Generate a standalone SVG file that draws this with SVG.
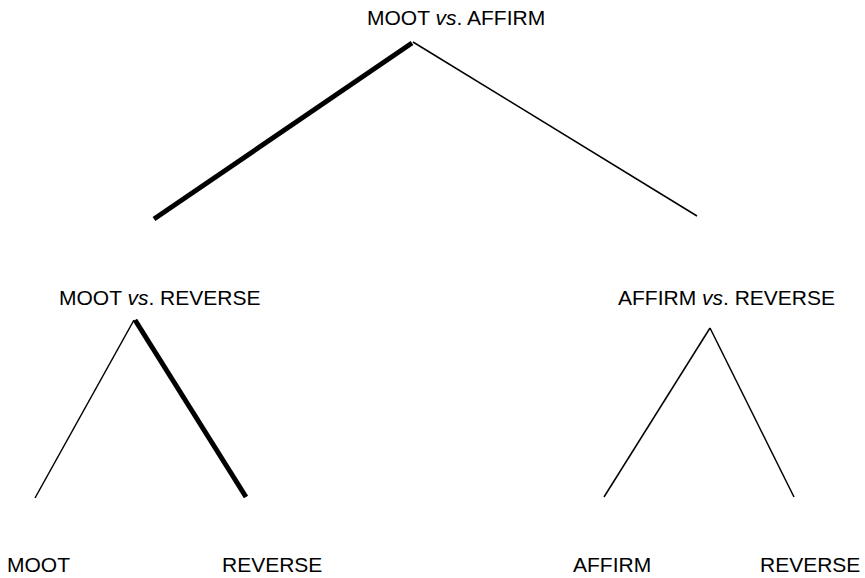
<svg xmlns="http://www.w3.org/2000/svg" width="865" height="578" viewBox="0 0 865 578">
<style>
text{font-family:"Liberation Sans",Arial,sans-serif;font-size:21px;fill:#000}
.i{font-style:italic}
.thin{stroke:#000;stroke-width:1.5;fill:none}
.thick{stroke:#000;stroke-width:5;fill:none}
</style>
<rect width="865" height="578" fill="#fff"/>
<g id="connectors">
<line class="thick" x1="412" y1="43" x2="154" y2="219"/>
<line class="thin" x1="413" y1="42" x2="697" y2="216"/>
<line class="thin" x1="134" y1="320" x2="35" y2="498"/>
<line class="thick" x1="135" y1="320" x2="246" y2="497"/>
<line class="thin" x1="710" y1="328" x2="604" y2="497"/>
<line class="thin" x1="710" y1="328" x2="794" y2="497"/>
</g>
<g id="root"><text x="367" y="25">MOOT <tspan class="i">vs</tspan>. AFFIRM</text></g>
<g id="moot-vs-reverse"><text x="59" y="305">MOOT <tspan class="i">vs</tspan>. REVERSE</text></g>
<g id="affirm-vs-reverse"><text x="618" y="305">AFFIRM <tspan class="i">vs</tspan>. REVERSE</text></g>
<g id="leaf-moot"><text x="7" y="572">MOOT</text></g>
<g id="leaf-reverse-1"><text x="222" y="572">REVERSE</text></g>
<g id="leaf-affirm"><text x="573" y="572">AFFIRM</text></g>
<g id="leaf-reverse-2"><text x="760" y="572">REVERSE</text></g>
</svg>
